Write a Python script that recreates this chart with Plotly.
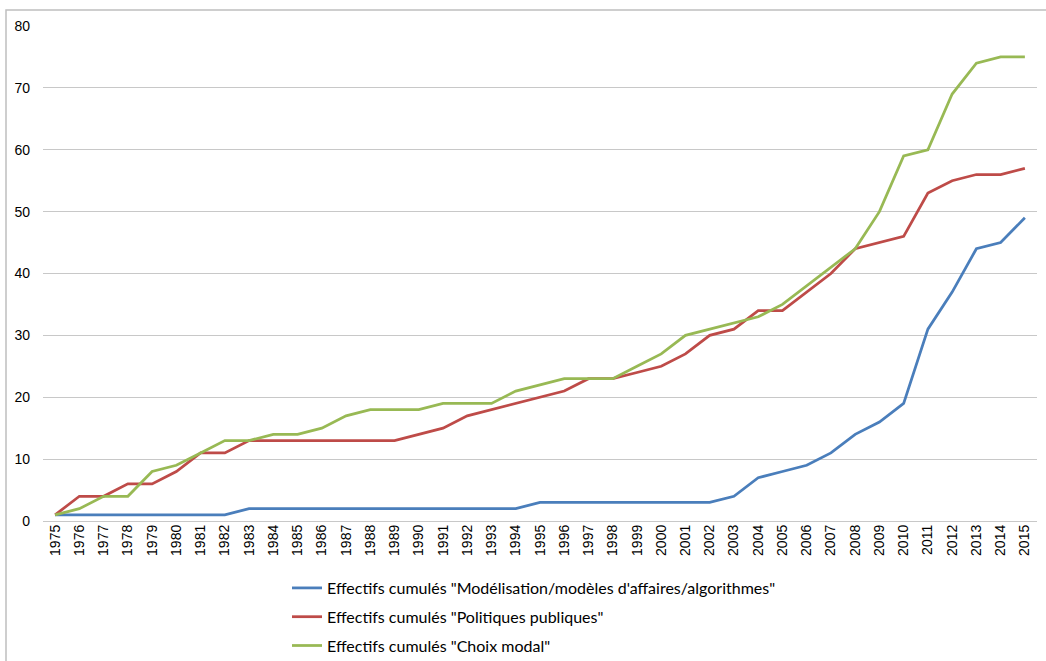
import plotly.graph_objects as go

years = [str(y) for y in range(1975, 2016)]

modelisation = [1, 1, 1, 1, 1, 1, 1, 1, 2, 2, 2, 2, 2, 2, 2, 2, 2, 2, 2, 2,
                3, 3, 3, 3, 3, 3, 3, 3, 4, 7, 8, 9, 11, 14, 16, 19, 31, 37, 44, 45, 49]
politiques = [1, 4, 4, 6, 6, 8, 11, 11, 13, 13, 13, 13, 13, 13, 13, 14, 15, 17, 18, 19,
              20, 21, 23, 23, 24, 25, 27, 30, 31, 34, 34, 37, 40, 44, 45, 46, 53, 55, 56, 56, 57]
choix_modal = [1, 2, 4, 4, 8, 9, 11, 13, 13, 14, 14, 15, 17, 18, 18, 18, 19, 19, 19, 21,
               22, 23, 23, 23, 25, 27, 30, 31, 32, 33, 35, 38, 41, 44, 50, 59, 60, 69, 74, 75, 75]

names = [
    'Effectifs cumulés "Modélisation/modèles d\'affaires/algorithmes"',
    'Effectifs cumulés "Politiques publiques"',
    'Effectifs cumulés "Choix modal"',
]
colors = ["#4a7ebb", "#be4b48", "#98b954"]
series = [modelisation, politiques, choix_modal]

fig = go.Figure()
for i, (name, vals, col) in enumerate(zip(names, series, colors)):
    fig.add_trace(go.Scatter(
        x=years, y=vals, name=name, mode="lines",
        line=dict(color=col, width=2.75),
        legendgroup=f"g{i}",
    ))

W, H = 1046, 661
ml, mr, mt, mb = 43, 9, 26, 140

fig.update_layout(
    width=W, height=H,
    margin=dict(l=ml, r=mr, t=mt, b=mb, autoexpand=False),
    paper_bgcolor="white", plot_bgcolor="white",
    font=dict(family="Liberation Sans, Arial, sans-serif", size=14, color="#000000"),
    showlegend=True,
    legend=dict(
        orientation="v", xref="container", x=287 / W, xanchor="left",
        yref="container", y=1 - 571 / H, yanchor="top",
        font=dict(family="Lato, sans-serif", size=16, color="#000000"),
        tracegroupgap=5, bgcolor="rgba(0,0,0,0)",
    ),
    xaxis=dict(
        type="category", range=[-0.5, 40.5], showgrid=False,
        tickangle=-90, ticks="", showline=False, zeroline=False,
        tickfont=dict(size=14), automargin=False,
    ),
    yaxis=dict(
        range=[0, 80], dtick=10, showgrid=True, gridcolor="#c8c8c8", gridwidth=1.3,
        zeroline=True, zerolinecolor="#c8c8c8", zerolinewidth=1.3,
        ticks="", ticklabelstandoff=12, tickfont=dict(size=14),
        showline=False, automargin=False,
    ),
    shapes=[dict(
        type="rect", xref="paper", yref="paper",
        x0=(6 - ml) / (W - ml - mr), x1=(W + 20 - ml) / (W - ml - mr),
        y0=-(H + 20 - (H - mb)) / (H - mt - mb), y1=1 + (mt - 10) / (H - mt - mb),
        line=dict(color="#bfbfbf", width=1.5), fillcolor="rgba(0,0,0,0)", layer="below",
    )],
)

fig.write_html(
    "out.html",
    config={"displayModeBar": False},
    post_script="document.body.style.margin='0';document.body.style.padding='0';",
)
